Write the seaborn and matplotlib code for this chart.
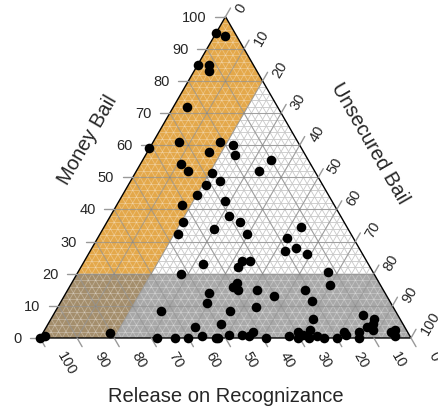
import numpy as np
import matplotlib
matplotlib.use("Agg")
import matplotlib.pyplot as plt
import seaborn as sns
from matplotlib.collections import LineCollection
from matplotlib.patches import Polygon

# shares (percent)
money_bail = [95, 94, 85, 85, 83, 72, 61, 61, 60, 59,
              58, 57, 55.5, 54, 52, 51.5, 52, 49, 47.5, 44.5,
              41.5, 42.5, 38, 36, 36, 34, 32.5, 32.5, 31, 34.5,
              28, 27, 26, 23, 24, 24, 22, 20, 20.5, 16,
              17, 15, 15, 14, 13, 15, 16.5, 11, 11.5, 8.5,
              8.5, 9.5, 6, 3.5, 4.5, 7, 6, 4.5, 3.5, 2.5,
              0, 0, 0, 0.5, 0, 0, 1, 1, 0.5, 2,
              0, 0.5, 2, 0, 1, 2.5, 0, 0.5, 0, 0,
              2, 1, 2, 0, 2, 2.5, 0.5, 0, 0.5, 1.5]
unsecured_bail = [0, 3, 0, 3, 4, 3.5, 7, 18, 22, 0,
                  16.5, 24, 34.5, 11, 14, 20.5, 33, 24, 21, 20,
                  17.5, 28.5, 32, 36, 20.5, 30, 39.5, 21, 51, 53,
                  55, 52.5, 59, 32.5, 42.5, 44.5, 42.5, 28, 67.5, 44,
                  44.5, 46, 51, 38.5, 56.5, 64, 70, 39.5, 67.5, 28.5,
                  47, 53.5, 70.5, 40, 46.5, 83.5, 87, 87.5, 86.5, 88.5,
                  31.5, 36.5, 40, 43.5, 47.5, 48, 50.5, 54, 56, 56.5,
                  61, 67, 68.5, 69.5, 70.5, 71.5, 72.5, 74.5, 76.5, 80,
                  81, 82, 85, 86, 93.5, 94.5, 95.5, 0, 1, 18]
release_ror = [5, 3, 15, 12, 13, 24.5, 32, 21, 18, 41,
               25.5, 19, 10, 35, 34, 28, 15, 27, 31.5, 35.5,
               41, 29, 30, 28, 43.5, 36, 28, 46.5, 18, 12.5,
               17, 20.5, 15, 44.5, 33.5, 31.5, 35.5, 52, 12, 40,
               38.5, 39, 34, 47.5, 30.5, 21, 13.5, 49.5, 21, 63,
               44.5, 37, 23.5, 56.5, 49, 9.5, 7, 8, 10, 9,
               68.5, 63.5, 60, 56, 52.5, 52, 48.5, 45, 43.5, 41.5,
               39, 32.5, 29.5, 30.5, 28.5, 26, 27.5, 25, 23.5, 20,
               17, 17, 13, 14, 4.5, 3, 4, 100, 98.5, 80.5]

tick_values = [0, 10, 20, 30, 40, 50, 60, 70, 80, 90, 100]

H = np.sqrt(3) / 2


def to_xy(m, u):
    return u + m / 2, m * H


def grid_segments(step):
    segs = []
    for k in range(1, int(100 / step)):
        v = k * step / 100
        segs.append([(v / 2, v * H), (1 - v / 2, v * H)])            # money const
        segs.append([(v, 0), (v + (1 - v) / 2, (1 - v) * H)])        # unsecured const
        segs.append([(1 - v, 0), ((1 - v) / 2, (1 - v) * H)])        # release const
    return segs


sns.set_theme(style="white")
plt.rcParams["font.family"] = ["Liberation Sans", "DejaVu Sans"]

fig = plt.figure(figsize=(4.38, 4.14), dpi=100)
ax = fig.add_axes([0, 0, 1, 1])
ax.set_xlim(-0.1078, 1.0728)
ax.set_ylim(-0.2022, 0.9137)
ax.axis("off")

# minor grid under the fills
ax.add_collection(LineCollection(grid_segments(2), colors="#c8c8c8", linewidths=0.6, zorder=1))

# shaded zones: unsecured <= 20 (orange), money <= 20 (grey), overlap
a = 0.2
orange = Polygon([(a / 2 + a, a * H), (a + (1 - a) / 2, (1 - a) * H), (0.5, H), (a / 2, a * H)],
                 closed=True, fc="#e4a84a", ec="none", zorder=2)
overlap = Polygon([(0, 0), (a, 0), (a + a / 2, a * H), (a / 2, a * H)],
                  closed=True, fc="#a48e6c", ec="none", zorder=2)
grey = Polygon([(a, 0), (1, 0), (1 - a / 2, a * H), (a + a / 2, a * H)],
               closed=True, fc="#a8a8a8", ec="none", zorder=2)
for p in (orange, overlap, grey):
    ax.add_patch(p)

shaded = Polygon([(0, 0), (1, 0), (1 - a / 2, a * H), (a + a / 2, a * H),
                  (a + (1 - a) / 2, (1 - a) * H), (0.5, H)], closed=True,
                 fc="none", ec="none")
ax.add_patch(shaded)
lc = LineCollection(grid_segments(2), colors="white", linewidths=0.6, alpha=0.3, zorder=3)
lc.set_clip_path(shaded)
ax.add_collection(lc)

# major grid
ax.add_collection(LineCollection(grid_segments(10), colors="#808080", linewidths=0.8,
                                 alpha=0.6, zorder=3))

# frame
ax.plot([0, 1, 0.5, 0], [0, 0, H, 0], color="black", lw=1, zorder=4)

# ticks and tick labels
tl = 0.027
for t in tick_values:
    v = t / 100
    # money bail (left)
    x0, y0 = v / 2, v * H
    ax.plot([x0, x0 - tl], [y0, y0], color="#999999", lw=1, zorder=4)
    ax.text(x0 - 0.05, y0, str(t), ha="right", va="center", fontsize=10.5)
    # unsecured bail (right)
    x0, y0 = v + (1 - v) / 2, (1 - v) * H
    ax.plot([x0, x0 + tl * 0.5], [y0, y0 + tl * H], color="#999999", lw=1, zorder=4)
    ax.text(x0 + 0.035, y0 + 0.014, str(t), ha="left", va="center", rotation=60,
            rotation_mode="anchor", fontsize=10.5)
    # release on recognizance (bottom)
    x0, y0 = 1 - v, 0
    ax.plot([x0, x0 + tl * 0.5], [y0, y0 - tl * H], color="#999999", lw=1, zorder=4)
    ax.text(x0 + 0.055, y0 - 0.037, str(t), ha="left", va="center", rotation=-60,
            rotation_mode="anchor", fontsize=10.5)

ax.text(0.129, 0.536, "Money Bail", rotation=60, ha="center", va="center", fontsize=14.5)
ax.text(0.889, 0.526, "Unsecured Bail", rotation=-60, ha="center", va="center", fontsize=14.5)
ax.text(0.5, -0.156, "Release on Recognizance", ha="center", va="center", fontsize=14.5)

tot = np.array(money_bail) + np.array(unsecured_bail) + np.array(release_ror)
px, py = to_xy(np.array(money_bail) / tot, np.array(unsecured_bail) / tot)
sns.scatterplot(x=px, y=py, color="black", s=48, linewidth=0, ax=ax, zorder=6, legend=False)
ax.set_xlim(-0.1078, 1.0728)
ax.set_ylim(-0.2022, 0.9137)

fig.savefig("out.png", dpi=100)
